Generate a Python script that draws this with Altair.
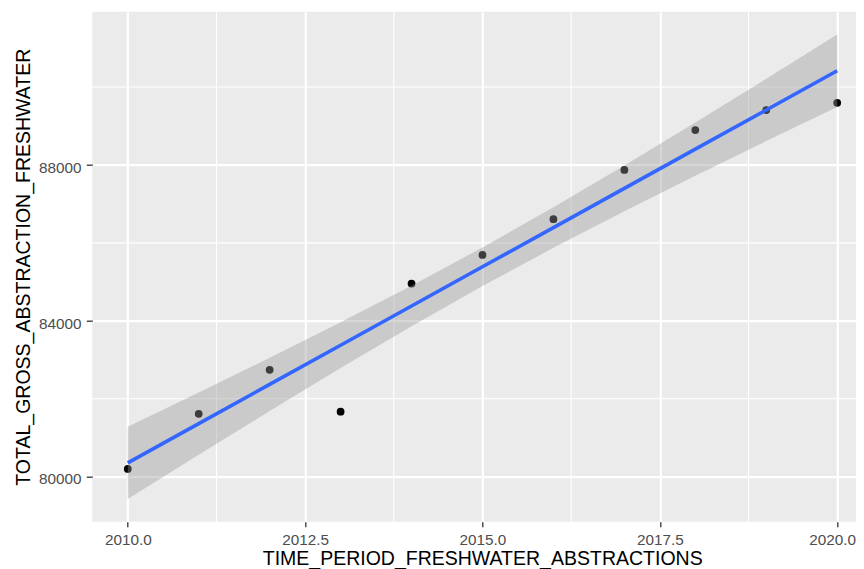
import altair as alt
import pandas as pd

# ---- data ----
years = [2010, 2011, 2012, 2013, 2014, 2015, 2016, 2017, 2018, 2019, 2020]
abstraction = [80200, 81615, 82744, 81667, 84956, 85692, 86608, 87872, 88897, 89410, 89597]

x_major = [2010.0, 2012.5, 2015.0, 2017.5, 2020.0]
x_minor = [2011.25, 2013.75, 2016.25, 2018.75]
y_major = [80000, 84000, 88000]
y_minor = [82000, 86000, 90000]

x_title = "TIME_PERIOD_FRESHWATER_ABSTRACTIONS"
y_title = "TOTAL_GROSS_ABSTRACTION_FRESHWATER"

T95_DF9 = 2.262157  # Student t quantile, 95% level, n-2 = 9 df (as in geom_smooth)

df = pd.DataFrame({"year": years, "value": abstraction})

xscale = alt.Scale(domain=[2009.5, 2020.265], nice=False, zero=False)
yscale = alt.Scale(domain=[78845, 91934], nice=False, zero=False)

xaxis = alt.Axis(
    title=x_title,
    values=x_major,
    format=".1f",
    labelOffset={"condition": {"test": "datum.value >= 2020", "value": -5}, "value": 0},
)
yaxis = alt.Axis(title=y_title, values=y_major, format="d")

X = lambda f: alt.X(f, scale=xscale, axis=xaxis)
Y = lambda f: alt.Y(f, scale=yscale, axis=yaxis)

minor_x = alt.Chart(pd.DataFrame({"year": x_minor})).mark_rule(
    color="white", strokeWidth=1.1
).encode(x=X("year:Q"))

minor_y = alt.Chart(pd.DataFrame({"value": y_minor})).mark_rule(
    color="white", strokeWidth=1.1
).encode(y=Y("value:Q"))

points = alt.Chart(df).mark_circle(size=60, color="black", opacity=1).encode(
    x=X("year:Q"), y=Y("value:Q")
)

fit = (
    alt.Chart(df)
    .transform_joinaggregate(mx="mean(year)", my="mean(value)", n="count()")
    .transform_calculate(
        dx="datum.year - datum.mx",
        dxy="(datum.year - datum.mx) * (datum.value - datum.my)",
        dxx="(datum.year - datum.mx) * (datum.year - datum.mx)",
    )
    .transform_joinaggregate(sxy="sum(dxy)", sxx="sum(dxx)")
    .transform_calculate(fit="datum.my + datum.sxy / datum.sxx * datum.dx")
    .transform_calculate(r2="pow(datum.value - datum.fit, 2)")
    .transform_joinaggregate(sse="sum(r2)")
    .transform_calculate(
        se="sqrt(datum.sse / (datum.n - 2)) * sqrt(1 / datum.n + datum.dxx / datum.sxx)"
    )
    .transform_calculate(
        lo=f"datum.fit - {T95_DF9} * datum.se",
        hi=f"datum.fit + {T95_DF9} * datum.se",
    )
)

band = fit.mark_area(color="#999999", opacity=0.4).encode(
    x=X("year:Q"), y=Y("lo:Q"), y2="hi:Q"
)
line = fit.mark_line(color="#3366FF", strokeWidth=3.6).encode(
    x=X("year:Q"), y=Y("fit:Q")
)

chart = (
    alt.layer(minor_x, minor_y, points, band, line)
    .properties(
        width=763.7,
        height=510,
        autosize=alt.AutoSizeParams(type="none"),
        padding={"left": 84.3, "top": 3.7, "right": 0, "bottom": 47.3},
    )
    .configure_view(fill="#EBEBEB", strokeWidth=0)
    .configure_axis(
        domain=False,
        grid=True,
        gridColor="white",
        gridWidth=2.2,
        tickColor="#333333",
        tickWidth=1.3,
        labelFont="Liberation Sans",
        labelFontSize=15.3,
        labelColor="#4D4D4D",
        titleFont="Liberation Sans",
        titleFontSize=19.5,
        titleFontWeight="normal",
        titleColor="black",
    )
    .configure_axisX(
        tickSize=5,
        labelPadding=17.3,
        labelBaseline="alphabetic",
        titleBaseline="alphabetic",
        titleX=389.9,
        titleY=42.6,
        titleAlign="center",
    )
    .configure_axisY(
        tickSize=6,
        labelPadding=5.3,
        labelBaseline="alphabetic",
        labelOffset=7.3,
        titleBaseline="alphabetic",
        titleX=-63.3,
        titleY=255,
        titleAlign="center",
        titleAngle=270,
    )
)

chart.save("out.html", embed_options={"renderer": "svg", "actions": False})
